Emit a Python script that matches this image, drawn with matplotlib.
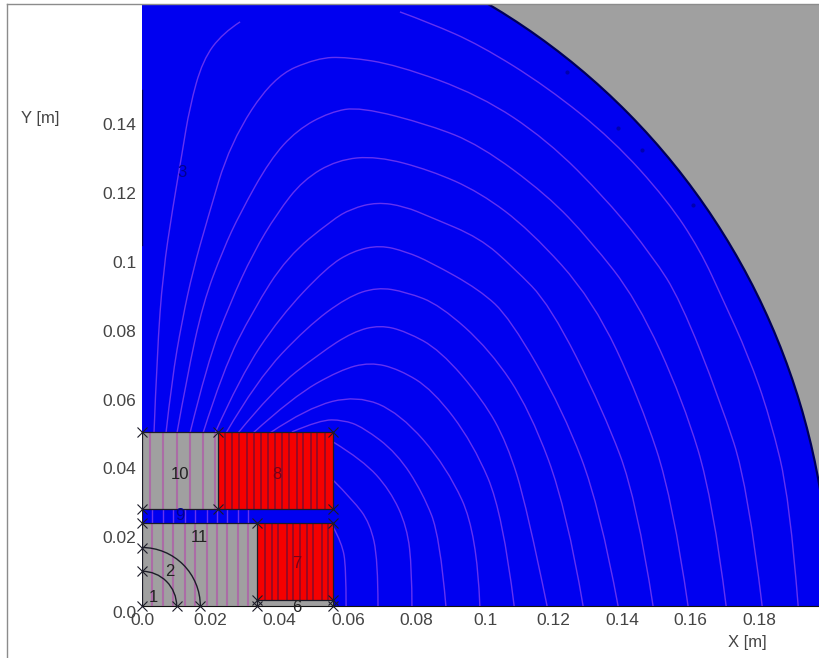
import numpy as np
import matplotlib
matplotlib.use('Agg')
import matplotlib.pyplot as plt
from matplotlib.lines import Line2D
from matplotlib.patches import Arc, Ellipse, PathPatch, Rectangle
from matplotlib.path import Path

plt.rcParams['font.family'] = ['Liberation Sans', 'DejaVu Sans']

# geometry, all in mm
yoke_radius_x = 200.5
yoke_radius_y = 202.5
inner_radii = [10.1, 17.0]
coil_top_y = [28.2, 50.6]
coil_low_y = [1.7, 24.1]
coil_top_split = 22.2
coil_low_split = 33.5
coil_right = 55.7

cross_x = [0, 10.1, 17.0, 33.5, 55.7, 0, 0, 0, 0, 0, 22.2, 22.2, 55.7, 55.7, 33.5, 55.7, 33.5, 55.7]
cross_y = [0, 0, 0, 0, 0, 10.1, 17.0, 24.1, 28.2, 50.6, 50.6, 28.2, 50.6, 28.2, 24.1, 24.1, 1.7, 1.7]

spot_x = [138.8, 145.8, 123.9, 160.6]
spot_y = [139.0, 132.6, 155.2, 116.6]

# flux lines in the air, x and y in mm
f01_x = [3.5, 4.4, 6.1, 9.0, 11.7, 13.9, 17.7, 23.6, 28.6]
f01_y = [50.3, 73.5, 96.8, 116.0, 131.7, 145.1, 158.7, 166.6, 169.8]
f02_x = [75.2, 84.0, 98.5, 118.1, 137.3, 153.1, 162.7, 169.4, 176.7, 183.1, 188.9, 191.3]
f02_y = [172.7, 169.5, 163.1, 150.9, 135.5, 118.0, 103.5, 89.0, 73.0, 54.9, 30.8, 0]
f03_x = [7.0, 8.7, 11.7, 14.9, 19.0, 25.7, 38.2, 51.0, 59.8, 74.3, 98.5, 118.1, 135.6, 149.0, 156.9, 168.5, 176.7, 180.8]
f03_y = [50.3, 65.7, 83.1, 97.7, 112.2, 134.6, 153.8, 159.3, 159.6, 157.3, 148.5, 135.5, 118.0, 101.5, 89.0, 59.9, 34.6, 0]
f04_x = [10.2, 13.1, 17.8, 23.6, 28.6, 37.3, 45.2, 54.8, 63.6, 84.0, 98.5, 118.1, 130.6, 144.3, 157.7, 166.5, 170.3]
f04_y = [50.3, 66.6, 88.1, 103.5, 114.2, 129.7, 138.4, 143.6, 145.1, 139.8, 134.0, 119.5, 106.4, 89.0, 59.9, 30.8, 0]
f05_x = [14.0, 19.0, 25.7, 32.4, 39.4, 46.9, 56.9, 68.5, 84.0, 98.5, 113.1, 131.5, 145.2, 154.8, 159.2]
f05_y = [50.3, 70.6, 88.1, 102.6, 114.2, 123.8, 129.7, 130.8, 126.7, 120.3, 109.3, 89.0, 59.9, 30.8, 0]
f06_x = [17.8, 23.6, 32.4, 42.3, 55.4, 61.0, 68.5, 76.5, 84.0, 98.5, 108.2, 119.0, 134.4, 144.3, 149.0]
f06_y = [50.3, 68.6, 86.0, 101.5, 112.2, 115.5, 117.4, 116.2, 113.1, 107.0, 98.5, 87.5, 57.0, 30.8, 0]
f07_x = [21.3, 28.6, 40.2, 53.9, 61.5, 69.4, 77.0, 84.0, 98.5, 107.3, 122.7, 133.5, 138.8]
f07_y = [50.3, 66.6, 84.0, 98.5, 103.2, 104.9, 103.0, 100.0, 91.9, 83.7, 57.0, 28.8, 0]
f08_x = [24.5, 33.5, 48.1, 59.8, 68.5, 77.0, 86.9, 101.5, 113.1, 123.9, 128.6]
f08_y = [50.3, 65.7, 81.1, 89.8, 92.7, 91.3, 87.5, 74.4, 57.0, 27.9, 0]
f09_x = [28.0, 38.2, 51.9, 61.5, 69.4, 77.0, 86.9, 99.4, 106.4, 112.2, 118.1]
f09_y = [50.3, 62.8, 73.5, 79.7, 81.7, 79.8, 74.4, 59.9, 47.4, 28.8, 0]
f10_x = [32.4, 44.0, 57.7, 66.5, 75.0, 84.8, 96.5, 105.2, 108.5]
f10_y = [50.3, 60.8, 68.6, 70.9, 68.8, 62.8, 47.4, 27.0, 0]
f11_x = [37.3, 48.1, 62.7, 75.2, 88.9, 97.7, 98.5]
f11_y = [50.3, 57.6, 61.3, 56.1, 40.4, 21.2, 0]
f12_x = [43.7, 51.9, 58.6, 64.4, 74.3, 81.9, 86.9, 88.6]
f12_y = [50.6, 54.1, 54.1, 52.0, 44.5, 32.8, 20.1, 0]
f13_x = [55.7, 64.4, 72.3, 77.3, 78.7, 78.7]
f13_y = [47.7, 42.4, 33.7, 23.0, 10.5, 0]
f14_x = [55.7, 61.5, 66.5, 68.8, 68.8]
f14_y = [36.6, 30.8, 24.1, 13.4, 0]
f15_x = [55.7, 58.3, 59.5, 59.5]
f15_y = [23.0, 18.3, 11.3, 0]

flux_lines = [(f01_x, f01_y), (f02_x, f02_y), (f03_x, f03_y), (f04_x, f04_y), (f05_x, f05_y),
              (f06_x, f06_y), (f07_x, f07_y), (f08_x, f08_y), (f09_x, f09_y), (f10_x, f10_y),
              (f11_x, f11_y), (f12_x, f12_y), (f13_x, f13_y), (f14_x, f14_y), (f15_x, f15_y)]

# where the flux lines cross the coils, mm
grey_top_stripes = [2.3, 6.1, 10.2, 14.0, 17.8, 21.3]
grey_low_stripes = [2.9, 6.1, 9.0, 12.5, 15.5, 19.0, 21.9, 24.8, 28.0, 30.9]
red_top_stripes = [24.2, 26.2, 28.3, 30.6, 32.7, 34.7, 36.7, 38.8, 40.8, 42.8, 45.2, 46.9, 49.3, 51.0, 53.4]
red_low_stripes = [35.9, 37.9, 39.7, 42.3, 44.0, 46.1, 48.1, 49.9, 52.5, 54.2]

region_labels = ['1', '2', '11', '10', '8', '7', '6', '9', '3']
region_x = [3.2, 8.2, 16.6, 11.1, 39.4, 45.2, 45.2, 11.1, 11.7]
region_y = [2.6, 9.9, 19.8, 38.1, 38.1, 12.5, -0.3, 26.2, 125.9]
region_colors = ['#222222', '#222222', '#222222', '#222222', '#7a0018', '#7a0018', '#222222', '#000090', '#000090']

xticks = [0.0, 0.02, 0.04, 0.06, 0.08, 0.1, 0.12, 0.14, 0.16, 0.18]
yticks = [0.0, 0.02, 0.04, 0.06, 0.08, 0.1, 0.12, 0.14]

blue = '#0000f0'
grey = '#a0a0a0'
red = '#f50000'
flux_blue = '#6432f0'
flux_grey = '#ab6ca6'
flux_red = '#8c0a28'
edge = '#1c1c28'
text_col = '#444444'


def smooth_path(xs, ys):
    pts = np.column_stack([xs, ys]) / 1000.0
    verts = [pts[0]]
    codes = [Path.MOVETO]
    for i in range(1, len(pts) - 1):
        end = pts[i + 1] if i == len(pts) - 2 else (pts[i] + pts[i + 1]) / 2
        verts += [pts[i], end]
        codes += [Path.CURVE3, Path.CURVE3]
    return Path(verts, codes)


fig = plt.figure(figsize=(8.19, 6.58), dpi=100)
ax = fig.add_axes([142 / 819, 1 - 606 / 658, 677 / 819, 601 / 658])
ax.set_xlim(0, 677 / 3430)
ax.set_ylim(0, 601 / 3440)
ax.set_facecolor(grey)
for s in ax.spines.values():
    s.set_visible(False)
ax.spines['bottom'].set_visible(True)
ax.spines['bottom'].set_color('#111111')
ax.spines['bottom'].set_linewidth(0.8)

ax.add_patch(Ellipse((0, 0), 2 * yoke_radius_x / 1000, 2 * yoke_radius_y / 1000, fc=blue, ec='#00005a', lw=1.6, zorder=1))
ax.plot(np.array(spot_x) / 1000, np.array(spot_y) / 1000, ls='none', marker='o', ms=3, mew=0, color='#0000b0', zorder=2)

# coils
ax.add_patch(Rectangle((0, coil_top_y[0] / 1000), coil_top_split / 1000, (coil_top_y[1] - coil_top_y[0]) / 1000,
                       fc=grey, ec='none', zorder=2))
ax.add_patch(Rectangle((coil_top_split / 1000, coil_top_y[0] / 1000), (coil_right - coil_top_split) / 1000,
                       (coil_top_y[1] - coil_top_y[0]) / 1000, fc=red, ec='none', zorder=2))
ax.add_patch(Rectangle((0, 0), coil_low_split / 1000, coil_low_y[1] / 1000, fc=grey, ec='none', zorder=2))
ax.add_patch(Rectangle((coil_low_split / 1000, coil_low_y[0] / 1000), (coil_right - coil_low_split) / 1000,
                       (coil_low_y[1] - coil_low_y[0]) / 1000, fc=red, ec='none', zorder=2))
ax.add_patch(Rectangle((coil_low_split / 1000, 0), (coil_right - coil_low_split) / 1000, coil_low_y[0] / 1000,
                       fc=grey, ec='none', zorder=2))

# stripes inside the coils
ax.vlines(np.array(grey_top_stripes) / 1000, coil_top_y[0] / 1000, coil_top_y[1] / 1000, color=flux_grey, lw=1.5, zorder=3)
ax.vlines(np.array(grey_low_stripes) / 1000, 0, coil_low_y[1] / 1000, color=flux_grey, lw=1.5, zorder=3)
ax.vlines(np.array(red_top_stripes) / 1000, coil_top_y[0] / 1000, coil_top_y[1] / 1000, color=flux_red, lw=1.2, zorder=3)
ax.vlines(np.array(red_low_stripes) / 1000, coil_low_y[0] / 1000, coil_low_y[1] / 1000, color=flux_red, lw=1.2, zorder=3)
ax.vlines(np.array(grey_low_stripes) / 1000, coil_low_y[1] / 1000, coil_top_y[0] / 1000, color=flux_blue, lw=1.0, zorder=3)

for xs, ys in flux_lines:
    ax.add_patch(PathPatch(smooth_path(xs, ys), fc='none', ec=flux_blue, lw=1.0, zorder=3))

# region outlines
for seg_x, seg_y in [([0, coil_right], [coil_top_y[1], coil_top_y[1]]),
                     ([0, coil_right], [coil_top_y[0], coil_top_y[0]]),
                     ([0, coil_right], [coil_low_y[1], coil_low_y[1]]),
                     ([coil_top_split, coil_top_split], coil_top_y),
                     ([coil_right, coil_right], coil_top_y),
                     ([coil_right, coil_right], [0, coil_low_y[1]]),
                     ([coil_low_split, coil_low_split], [0, coil_low_y[1]]),
                     ([coil_low_split, coil_right], [coil_low_y[0], coil_low_y[0]]),
                     ([0, 0], [0, coil_top_y[1]])]:
    ax.plot(np.array(seg_x) / 1000, np.array(seg_y) / 1000, color=edge, lw=0.9, zorder=4)
ax.plot([0, 0], [0.105, 0.15], color='#00005a', lw=1.0, zorder=4)
for r in inner_radii:
    ax.add_patch(Arc((0, 0), 2 * r / 1000, 2 * r / 1000, theta1=0, theta2=90, ec=edge, lw=1.0, zorder=4))

ax.plot(np.array(cross_x) / 1000, np.array(cross_y) / 1000, ls='none', marker='x', ms=6.5, mew=0.8,
        color=edge, zorder=5, clip_on=False)

for lab, lx, ly, c in zip(region_labels, region_x, region_y, region_colors):
    ax.text(lx / 1000, ly / 1000, lab, ha='center', va='center', fontsize=12, color=c, zorder=6, clip_on=False)

ax.set_xticks(xticks)
ax.set_xticklabels(['0.0', '0.02', '0.04', '0.06', '0.08', '0.1', '0.12', '0.14', '0.16', '0.18'])
ax.set_yticks(yticks)
ax.set_yticklabels(['0.0', '0.02', '0.04', '0.06', '0.08', '0.1', '0.12', '0.14'])
ax.tick_params(axis='both', length=0, labelsize=12.5, labelcolor=text_col)
ax.tick_params(axis='x', pad=5)
ax.tick_params(axis='y', pad=4)
ax.get_yticklabels()[0].set_verticalalignment('top')

fig.text(40 / 819, 1 - 118 / 658, 'Y [m]', ha='center', va='center', fontsize=12, color=text_col)
fig.text(747 / 819, 1 - 642 / 658, 'X [m]', ha='center', va='center', fontsize=12, color=text_col)

# window frame
fig.add_artist(Line2D([7 / 819, 7 / 819], [0, 1 - 4 / 658], color='#8c8c8c', lw=1.0))
fig.add_artist(Line2D([7 / 819, 1], [1 - 4 / 658, 1 - 4 / 658], color='#8c8c8c', lw=1.0))

fig.savefig('out.png', dpi=100)
